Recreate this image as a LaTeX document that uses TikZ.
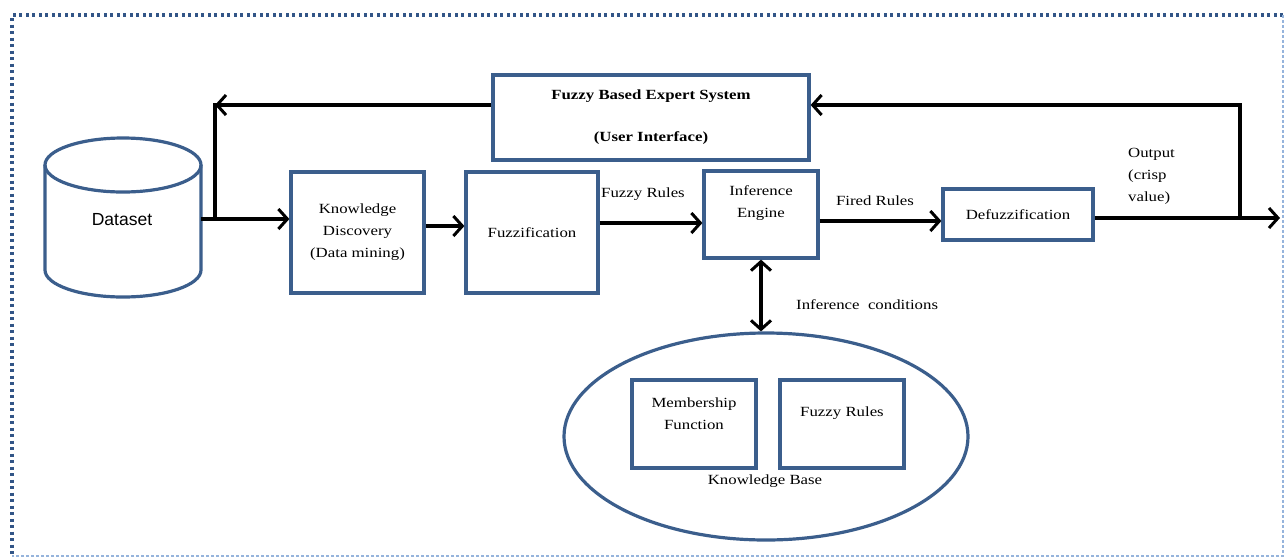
\documentclass[tikz,border=0pt]{standalone}
\usepackage{fontspec}
\setmainfont[FakeStretch=1.2]{Liberation Serif}
\newfontfamily\dsfont{Liberation Sans}
\usetikzlibrary{arrows.meta,shapes.geometric}
\definecolor{boxblue}{RGB}{59,94,140}
\definecolor{frameblue}{RGB}{50,85,135}
\definecolor{lightframe}{RGB}{150,180,220}
\begin{document}
\begin{tikzpicture}[x=1pt,y=-1pt,
  box/.style={draw=boxblue, line width=3.2pt, inner sep=0pt, font=\fontsize{14}{22}\selectfont, align=center},
  lbl/.style={font=\fontsize{14}{22}\selectfont, align=center, inner sep=0pt},
  tipb/.tip={Straight Barb[length=9pt,width=20pt,line width=3pt]},
  arr/.style={line width=3.3pt, -tipb},
  arrtwo/.style={line width=3.3pt, tipb-tipb},
  ln/.style={line width=3.3pt}]
\useasboundingbox (0,0) rectangle (1285,558);
% frame
\draw[frameblue, line width=3.2pt, dash pattern=on 3pt off 3.5pt] (1283,15) -- (12,15) -- (12,556);
\draw[lightframe, line width=1.4pt, dash pattern=on 3pt off 2pt] (1283,15) -- (1283,556) -- (12,556);
% dataset cylinder
\draw[boxblue, line width=3.2pt] (45,165) -- (45,270) arc[start angle=180,end angle=360,x radius=78pt,y radius=27pt] -- (201,165);
\draw[boxblue, line width=3.2pt] (123,165) ellipse[x radius=78pt,y radius=27pt];
\node[font=\dsfont\fontsize{17.5}{20}\selectfont, inner sep=0pt] (dataset) at (122,220) {Dataset};
\coordinate (dsE) at (201,219);
% boxes
\node[box, minimum width=316pt, minimum height=85pt] (fbes) at (651,117.5) {};
\node[lbl, font=\bfseries\fontsize{14}{22}\selectfont] (fbest) at (651,96) {Fuzzy Based Expert System};
\node[lbl, font=\bfseries\fontsize{14}{22}\selectfont] (fbesu) at (651,138) {(User Interface)};
\node[box, minimum width=133pt, minimum height=121pt] (kd) at (357.5,232.5) {Knowledge\\Discovery\\(Data mining)};
\node[box, minimum width=132pt, minimum height=121pt] (fz) at (532,232.5) {Fuzzification};
\node[box, minimum width=114pt, minimum height=87pt] (ie) at (761,214.5) {};
\node[lbl] (iet) at (761,203.5) {Inference\\Engine};
\node[box, minimum width=150pt, minimum height=51pt] (df) at (1018,214.5) {Defuzzification};
% knowledge base
\node[ellipse, draw=boxblue, line width=3.2pt, minimum width=404pt, minimum height=207pt, inner sep=0pt] (kb) at (766,436.5) {};
\node[box, minimum width=124pt, minimum height=88pt] (mf) at (694,424) {};
\node[lbl] (mft) at (694,413.5) {Membership\\Function};
\node[box, minimum width=124pt, minimum height=88pt] (fr) at (842,424) {};
\node[lbl] (frt) at (842,413) {Fuzzy Rules};
\node[lbl] (kbt) at (765,481) {Knowledge Base};
% connectors
\coordinate (j1) at (215,219);
\coordinate (j1t) at (215,105);
\draw[arr] (dsE) -- (kd.west |- dsE);
\draw[arr] (fbes.west |- j1t) -- (j1t);
\draw[ln] ([yshift=1.6pt]j1t) -- (j1);
\coordinate (a2) at (0,226);
\draw[arr] (kd.east |- a2) -- (fz.west |- a2);
\coordinate (a3) at (0,223);
\draw[arr] (fz.east |- a3) -- (ie.west |- a3);
\node[lbl] (l1) at (643,194) {Fuzzy Rules};
\coordinate (a4) at (0,221);
\draw[arr] (ie.east |- a4) -- (df.west |- a4);
\node[lbl] (l2) at (875,201) {Fired Rules};
\coordinate (j2) at (1240,218);
\coordinate (j2t) at (1240,105);
\coordinate (out) at (1280,218);
\draw[arr] (df.east |- j2) -- (out);
\draw[arr] (j2) -- (j2t) -- (fbes.east |- j2t);
\node[lbl, anchor=west, align=left] (l3) at (1128,176) {Output\\(crisp\\value)};
\draw[arrtwo] (ie.south) -- (ie.south |- kb.north);
\node[lbl, anchor=west] (l4) at (796,305) {Inference\ \ conditions};
\end{tikzpicture}
\end{document}
